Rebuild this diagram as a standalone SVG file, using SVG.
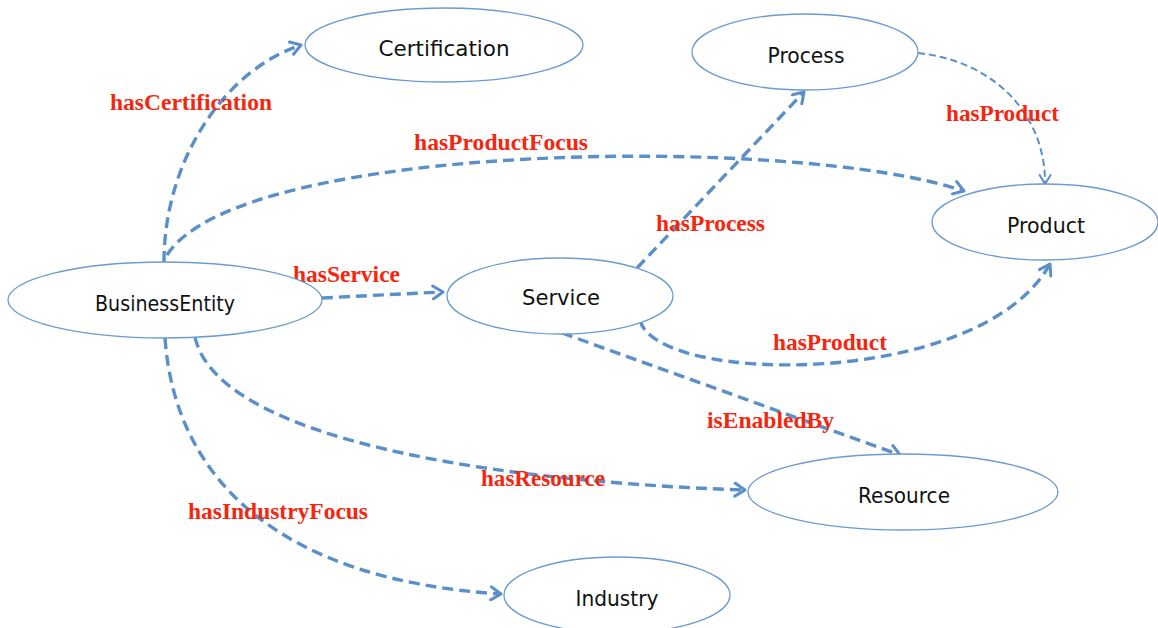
<svg xmlns="http://www.w3.org/2000/svg" width="1158" height="628" viewBox="0 0 1158 628">
  <style>
    .node ellipse { fill: #ffffff; stroke: #6b9bd2; stroke-width: 1.3; }
    .node text { font-family: "DejaVu Sans", "Liberation Sans", sans-serif; font-size: 21px; fill: #111111; text-anchor: middle; }
    .edge { fill: none; stroke: #5b8fc9; stroke-width: 3.4; stroke-dasharray: 11 6; marker-end: url(#arrow); }
    .edge.thin { stroke-width: 2; stroke-dasharray: 7 4; marker-end: url(#arrowThin); }
    .label { font-family: "Liberation Serif", "Times New Roman", serif; font-weight: bold; font-size: 23px; fill: #f5260f; }
  </style>
  <defs>
    <marker id="arrow" viewBox="0 0 14 16" refX="12" refY="8" markerWidth="14" markerHeight="16" markerUnits="userSpaceOnUse" orient="auto">
      <path d="M2,1.5 L12,8 L2,14.5" fill="none" stroke="#5b8fc9" stroke-width="3" stroke-linecap="round" stroke-linejoin="round"/>
    </marker>
    <marker id="arrowThin" viewBox="0 0 12 14" refX="10.5" refY="7" markerWidth="12" markerHeight="14" markerUnits="userSpaceOnUse" orient="auto">
      <path d="M1.5,1.5 L10.5,7 L1.5,12.5" fill="none" stroke="#5b8fc9" stroke-width="2" stroke-linecap="round" stroke-linejoin="round"/>
    </marker>
  </defs>

  <rect width="1158" height="628" fill="#ffffff"/>

  <!-- connectors -->
  <g id="connectors">
    <path class="edge" d="M164,262 C164,160 225,70 301,45"/>
    <path class="edge" d="M167,255 C240,140 800,135 964,191"/>
    <path class="edge" d="M322,298 C360,296 400,294 443,292"/>
    <path class="edge" d="M637,268 L804,92"/>
    <path class="edge thin" d="M918,53 C1000,62 1046,120 1045,184"/>
    <path class="edge" d="M640,320 C655,385 980,390 1050,264"/>
    <path class="edge" d="M562,333 L900,455"/>
    <path class="edge" d="M195,337 C215,430 450,480 745,490"/>
    <path class="edge" d="M165,338 C175,480 280,580 501,594"/>

    <text class="label" x="110" y="110" textLength="162" lengthAdjust="spacingAndGlyphs">hasCertification</text>
    <text class="label" x="414" y="150" textLength="174" lengthAdjust="spacingAndGlyphs">hasProductFocus</text>
    <text class="label" x="946" y="121" textLength="113" lengthAdjust="spacingAndGlyphs">hasProduct</text>
    <text class="label" x="656" y="231" textLength="109" lengthAdjust="spacingAndGlyphs">hasProcess</text>
    <text class="label" x="293" y="282" textLength="107" lengthAdjust="spacingAndGlyphs">hasService</text>
    <text class="label" x="773" y="350" textLength="114" lengthAdjust="spacingAndGlyphs">hasProduct</text>
    <text class="label" x="707" y="428" textLength="127" lengthAdjust="spacingAndGlyphs">isEnabledBy</text>
    <text class="label" x="481" y="486" textLength="124" lengthAdjust="spacingAndGlyphs">hasResource</text>
    <text class="label" x="188" y="519" textLength="180" lengthAdjust="spacingAndGlyphs">hasIndustryFocus</text>
  </g>

  <!-- nodes -->
  <g id="certification" class="node">
    <ellipse cx="444" cy="45" rx="139" ry="37"/>
    <text x="444" y="56" textLength="131" lengthAdjust="spacingAndGlyphs">Certification</text>
  </g>
  <g id="process" class="node">
    <ellipse cx="805" cy="52" rx="113" ry="38"/>
    <text x="806" y="63" textLength="77" lengthAdjust="spacingAndGlyphs">Process</text>
  </g>
  <g id="product" class="node">
    <ellipse cx="1045" cy="222" rx="113" ry="38"/>
    <text x="1046" y="233" textLength="78" lengthAdjust="spacingAndGlyphs">Product</text>
  </g>
  <g id="businessEntity" class="node">
    <ellipse cx="165" cy="300" rx="157" ry="38"/>
    <text x="165" y="311" textLength="140" lengthAdjust="spacingAndGlyphs">BusinessEntity</text>
  </g>
  <g id="service" class="node">
    <ellipse cx="560" cy="296" rx="113" ry="38"/>
    <text x="561" y="305" textLength="78" lengthAdjust="spacingAndGlyphs">Service</text>
  </g>
  <g id="resource" class="node">
    <ellipse cx="903" cy="492" rx="155" ry="38"/>
    <text x="904" y="503" textLength="92" lengthAdjust="spacingAndGlyphs">Resource</text>
  </g>
  <g id="industry" class="node">
    <ellipse cx="617" cy="595" rx="113" ry="38"/>
    <text x="617" y="606" textLength="83" lengthAdjust="spacingAndGlyphs">Industry</text>
  </g>
</svg>
